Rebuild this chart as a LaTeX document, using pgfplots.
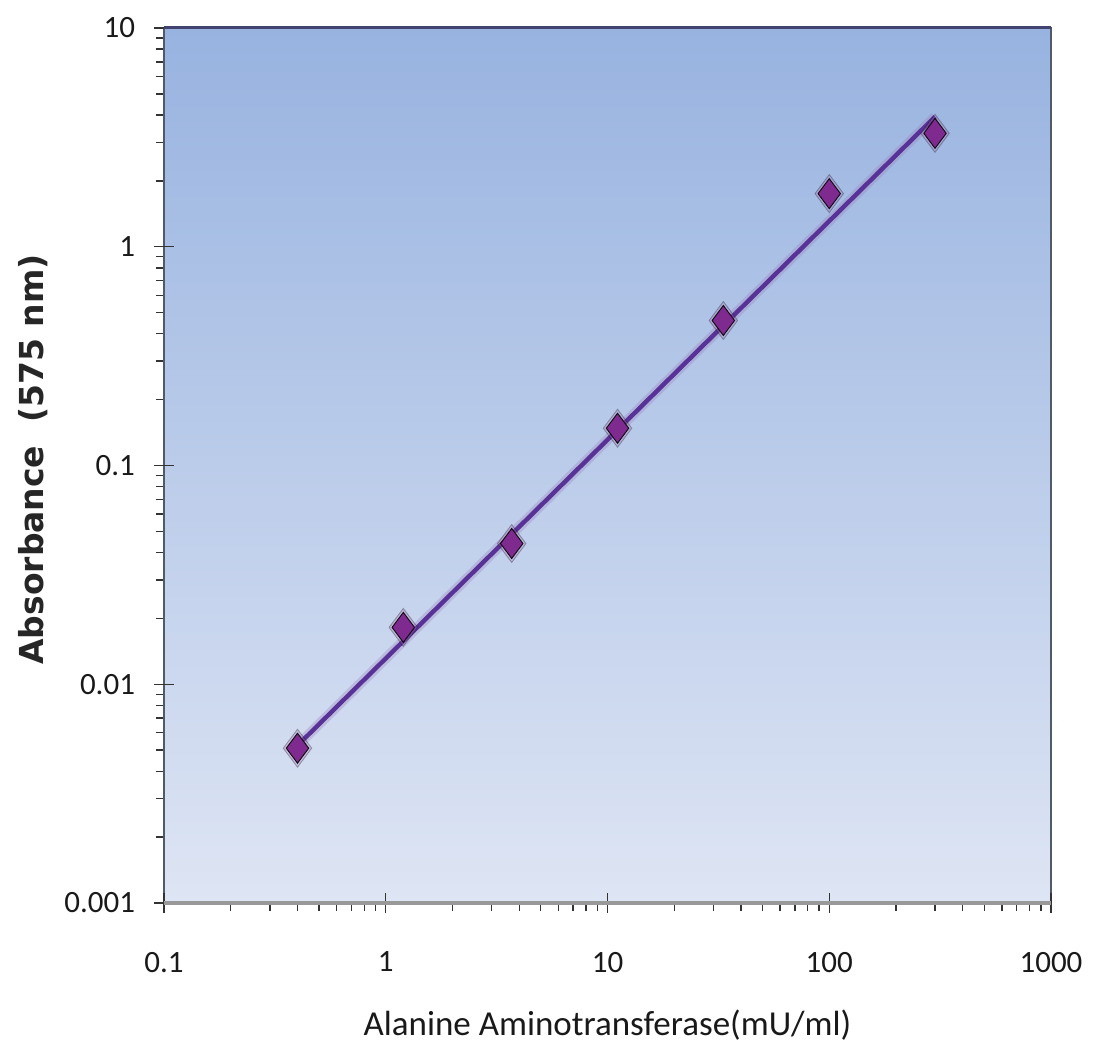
\documentclass[border=0pt]{standalone}
\usepackage{pgfplots}
\pgfplotsset{compat=1.18}
\usepackage{fontspec}
\setmainfont{Carlito}
\newfontfamily\labfont{DejaVu Sans}
\definecolor{bgtop}{RGB}{152,179,224}
\definecolor{bgbot}{RGB}{222,229,244}
\definecolor{mk}{RGB}{126,42,142}
\definecolor{ln}{RGB}{88,50,150}
\definecolor{frame}{RGB}{80,90,105}
\begin{document}
\begin{tikzpicture}
\begin{axis}[
  scale only axis,
  width=443.5pt, height=437.5pt,
  xmode=log, ymode=log,
  xmin=0.1, xmax=1000, ymin=0.001, ymax=10,
  axis background/.style={top color=bgtop, bottom color=bgbot},
  axis line style={frame, line width=1pt},
  xtick={0.1,1,10,100,1000},
  xticklabels={0.1,1,10,100,1000},
  ytick={0.001,0.01,0.1,1,10},
  yticklabels={0.001,0.01,0.1,1,10},
  /pgf/number format/assume math mode=true,
  tick align=outside,
  xtick pos=bottom, ytick pos=left,
  major tick length=5pt, minor tick length=4pt,
  every tick/.style={black!80, line width=0.7pt},
  extra x ticks={0.1,1,10,100,1000}, extra x tick labels={},
  extra x tick style={tick align=center, major tick length=10pt},
  extra y ticks={0.001,0.01,0.1,1,10}, extra y tick labels={},
  extra y tick style={tick align=center, major tick length=10pt},
  ticklabel style={font=\fontsize{15.5}{18}\selectfont, black!90},
  xticklabel style={yshift=-16pt},
  yticklabel style={xshift=-6pt},
  xlabel={Alanine Aminotransferase(mU/ml)},
  xlabel style={font=\fontsize{17.5}{20}\selectfont, black!90, at={(rel axis cs:0.5,0)}, anchor=center, yshift=-61pt},
  ylabel={Absorbance\ \ (575 nm)},
  ylabel style={font=\labfont\bfseries\fontsize{16.5}{19}\selectfont, black!85, at={(rel axis cs:0,0.5)}, anchor=center, yshift=65.5pt, xshift=3pt},
  clip=false,
]
% glow under line and marks
\addplot[ln!60!white, opacity=0.35, line width=5pt, no marks] coordinates {(0.4,0.00525) (300,3.93)};
\addplot[only marks, mark=diamond*, mark size=9.5pt, mark options={fill=mk!70!white, draw=none, opacity=0.3}] coordinates {
(0.4,0.0051) (1.2,0.0182) (3.7,0.044) (11.1,0.148) (33.3,0.46) (100,1.75) (300,3.3)};
% fit line
\addplot[ln, line width=2.2pt, no marks] coordinates {(0.4,0.00525) (300,3.93)};
% data
\addplot[only marks, mark=diamond*, mark size=7.5pt, mark options={fill=mk, draw=none}] coordinates {
(0.4,0.0051) (1.2,0.0182) (3.7,0.044) (11.1,0.148) (33.3,0.46) (100,1.75) (300,3.3)};
\draw[gray!75!blue!70!black, line width=1.5pt] (rel axis cs:0,1) -- (rel axis cs:1,1);
\draw[gray!80, line width=2pt] (rel axis cs:0,0) -- (rel axis cs:1,0);
\end{axis}
\path ([shift={(-82pt,-78pt)}]current axis.south west) rectangle ([shift={(21.5pt,14pt)}]current axis.north east);
\end{tikzpicture}
\end{document}
